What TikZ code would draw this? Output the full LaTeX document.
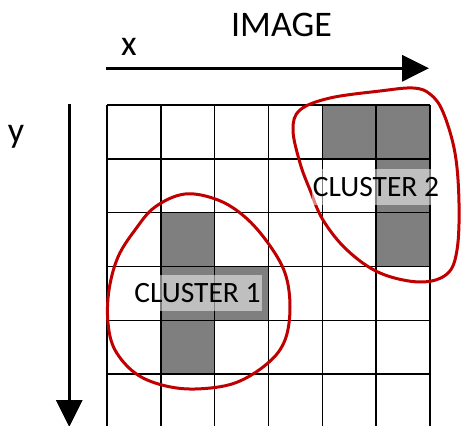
\documentclass[tikz,border=0pt]{standalone}
\usepackage{fontspec}
\setmainfont{Carlito}
\usetikzlibrary{arrows.meta}
\definecolor{cellgray}{HTML}{7F7F7F}
\definecolor{clusterred}{HTML}{C00000}
\tikzset{
  axis/.style={line width=3.3pt, -{Triangle[length=27pt,width=26pt]}},
  gridline/.style={line width=1.6pt, black},
  filled/.style={fill=cellgray},
  ring/.style={line width=3pt, draw=clusterred},
  axislabel/.style={anchor=base, inner sep=0pt, font=\fontsize{36}{40}\selectfont},
  tag/.style={anchor=base, fill=white, fill opacity=0.5, text opacity=1,
    inner xsep=1pt, inner ysep=8.5pt, text height=19pt, text depth=0pt,
    font=\fontsize{29.5}{32}\selectfont}
}
\begin{document}
\begin{tikzpicture}[x=1pt,y=-1pt]
\useasboundingbox (0,0) rectangle (461,426);
\fill[white] (0,0) rectangle (461,426);
% cell size and origin of the pixel grid
\def\cw{53.83}
\def\gx{107}
\def\gy{105}
% shaded pixels: (column,row)
\foreach \c/\r in {4/0,5/0,5/1,5/2,1/2,1/3,2/3,1/4}{
  \fill[filled] ({\gx+\c*\cw},{\gy+\r*\cw}) rectangle ++(\cw,\cw);
}
% grid lines
\foreach \i in {0,...,6}{
  \draw[gridline] ({\gx+\i*\cw},\gy) -- ({\gx+\i*\cw},430);
  \draw[gridline] (\gx,{\gy+\i*\cw}) -- ({\gx+6*\cw},{\gy+\i*\cw});
}
% axes
\coordinate (xs) at (106,68.3);
\coordinate (xe) at (429,68.3);
\coordinate (ys) at (69.3,104);
\coordinate (ye) at (69.3,427);
\draw[axis] (xs) -- (xe);
\draw[axis] (ys) -- (ye);
\node[axislabel] (title) at (281.5,36) {IMAGE};
\node[axislabel] (xlab) at (129,55) {x};
\node[axislabel] (ylab) at (16,142) {y};
% cluster outlines
\draw[ring] plot[smooth cycle, tension=0.6] coordinates {
  (413,88) (380,91) (330,98) (300,110) (293,130) (300,163) (310,190)
  (323,220) (347,250) (380,273) (420,282) (447,274) (457,250) (459,203)
  (455,153) (443,112) (430,94)};
\draw[ring] plot[smooth cycle, tension=0.6] coordinates {
  (185,194) (155,207) (135,230) (118,257) (109,290) (108,323) (115,350)
  (135,373) (162,385) (195,389) (235,383) (268,363) (285,340) (290,307)
  (285,273) (268,243) (245,217) (218,200)};
% cluster labels
\node[tag] (c2) at (376,196) {CLUSTER 2};
\node[tag] (c1) at (197.5,302) {CLUSTER 1};
\end{tikzpicture}
\end{document}
